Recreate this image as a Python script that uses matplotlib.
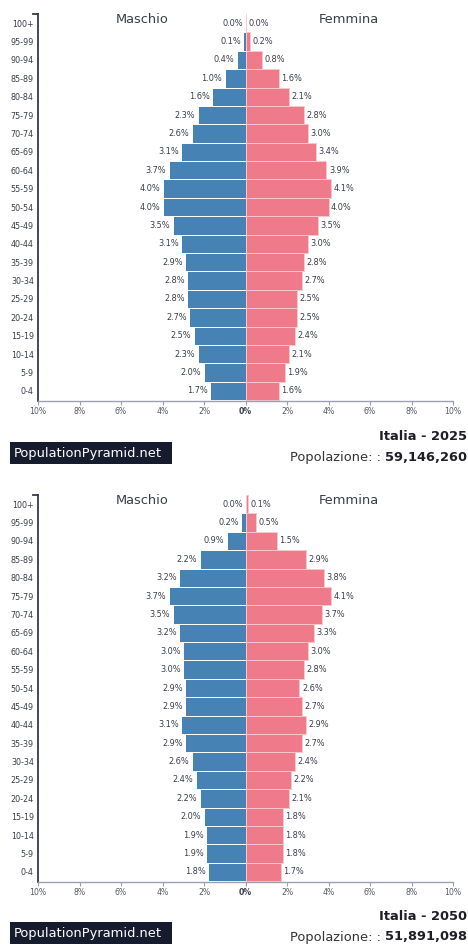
import matplotlib
matplotlib.use("Agg")
import matplotlib.pyplot as plt
from matplotlib.patches import Rectangle
from matplotlib.lines import Line2D

age_groups = ["0-4", "5-9", "10-14", "15-19", "20-24", "25-29", "30-34", "35-39",
              "40-44", "45-49", "50-54", "55-59", "60-64", "65-69", "70-74", "75-79",
              "80-84", "85-89", "90-94", "95-99", "100+"]

male_2025 = [1.7, 2.0, 2.3, 2.5, 2.7, 2.8, 2.8, 2.9, 3.1, 3.5, 4.0, 4.0, 3.7, 3.1, 2.6, 2.3,
             1.6, 1.0, 0.4, 0.1, 0.0]
female_2025 = [1.6, 1.9, 2.1, 2.4, 2.5, 2.5, 2.7, 2.8, 3.0, 3.5, 4.0, 4.1, 3.9, 3.4, 3.0, 2.8,
               2.1, 1.6, 0.8, 0.2, 0.04]

male_2050 = [1.8, 1.9, 1.9, 2.0, 2.2, 2.4, 2.6, 2.9, 3.1, 2.9, 2.9, 3.0, 3.0, 3.2, 3.5, 3.7,
             3.2, 2.2, 0.9, 0.2, 0.0]
female_2050 = [1.7, 1.8, 1.8, 1.8, 2.1, 2.2, 2.4, 2.7, 2.9, 2.7, 2.6, 2.8, 3.0, 3.3, 3.7, 4.1,
               3.8, 2.9, 1.5, 0.5, 0.1]

x_ticks = [-10, -8, -6, -4, -2, 0, 2, 4, 6, 8, 10]
panels = [("Italia - 2025", "59,146,260", male_2025, female_2025),
          ("Italia - 2050", "51,891,098", male_2050, female_2050)]

W, H = 468, 944
fig = plt.figure(figsize=(W / 100, H / 100), dpi=100)

BLUE = "#4682b4"
PINK = "#ee7a8a"
TXT = "#3a3d4a"
AXC = "#343a4e"
GRAYAX = "#9aa0b0"

panel_top = [14, 495]
footer_off = [(36, 57, 41), (34, 55, 40)]  # title y, population y, box top (px below axis)
ax_h = 387
left_px, right_px = 38, 453

for (title, popn, male, female), top, (ty, py, by) in zip(panels, panel_top, footer_off):
    ax = fig.add_axes([left_px / W, 1 - (top + ax_h) / H, (right_px - left_px) / W, ax_h / H])
    y = list(range(len(age_groups)))
    ax.barh(y, [-m for m in male], height=1.0, color=BLUE, edgecolor="white", linewidth=0.7)
    ax.barh(y, female, height=1.0, color=PINK, edgecolor="#f8c8cf", linewidth=0.7)
    ax.set_xlim(-10, 10)
    ax.set_ylim(-0.55, 20.5)
    for yi, m, f in zip(y, male, female):
        ax.text(-m - 0.12, yi, f"{m:.1f}%", ha="right", va="center", fontsize=5.9, color=TXT)
        ax.text(f + 0.12, yi, f"{f:.1f}%", ha="left", va="center", fontsize=5.9, color=TXT)
    ax.set_yticks(y)
    ax.set_yticklabels(age_groups, fontsize=5.8, color=TXT)
    ax.tick_params(axis="y", length=0, pad=3)
    ax.set_xticks(x_ticks)
    ax.set_xticklabels([f"{abs(t)}%" for t in x_ticks], fontsize=5.6, color="#555a66")
    for lbl, t in zip(ax.get_xticklabels(), x_ticks):
        if t == 0:
            lbl.set_fontweight("bold")
            lbl.set_color(TXT)
    ax.tick_params(axis="x", length=3, width=0.8, color=GRAYAX, pad=1.5)
    for s in ("top", "right"):
        ax.spines[s].set_visible(False)
    ax.spines["left"].set_color(AXC)
    ax.spines["left"].set_linewidth(1.3)
    ax.spines["bottom"].set_color(GRAYAX)
    ax.spines["bottom"].set_linewidth(1.0)
    # outer bracket at top of y axis
    ax.add_line(Line2D([-0.012, 0], [1, 1], transform=ax.transAxes, color=AXC,
                       linewidth=1.3, clip_on=False))
    ax.text(-5.0, 20.2, "Maschio", ha="center", va="center", fontsize=9.4, color=TXT)
    ax.text(5.0, 20.2, "Femmina", ha="center", va="center", fontsize=9.4, color=TXT)

    # footer
    base = top + ax_h
    fig.patches.append(Rectangle((10 / W, 1 - (base + by + 22) / H), 162 / W, 22 / H,
                                 transform=fig.transFigure, facecolor="#171b2e",
                                 edgecolor="none"))
    fig.text(14 / W, 1 - (base + by + 11) / H, "PopulationPyramid.net", ha="left",
             va="center", fontsize=9.4, color="white")
    fig.text(467 / W, 1 - (base + ty) / H, title, ha="right", va="center",
             fontsize=9.4, fontweight="bold", color="#1e1e24")
    num = fig.text(467 / W, 1 - (base + py) / H, popn, ha="right", va="center",
                   fontsize=9.4, fontweight="bold", color="#1e1e24")
    plt.annotate("Popolazione: : ", xy=(0, 0.5), xycoords=num, ha="right", va="center",
                 fontsize=9.4, color="#333", annotation_clip=False)

fig.savefig("out.png", dpi=100)
